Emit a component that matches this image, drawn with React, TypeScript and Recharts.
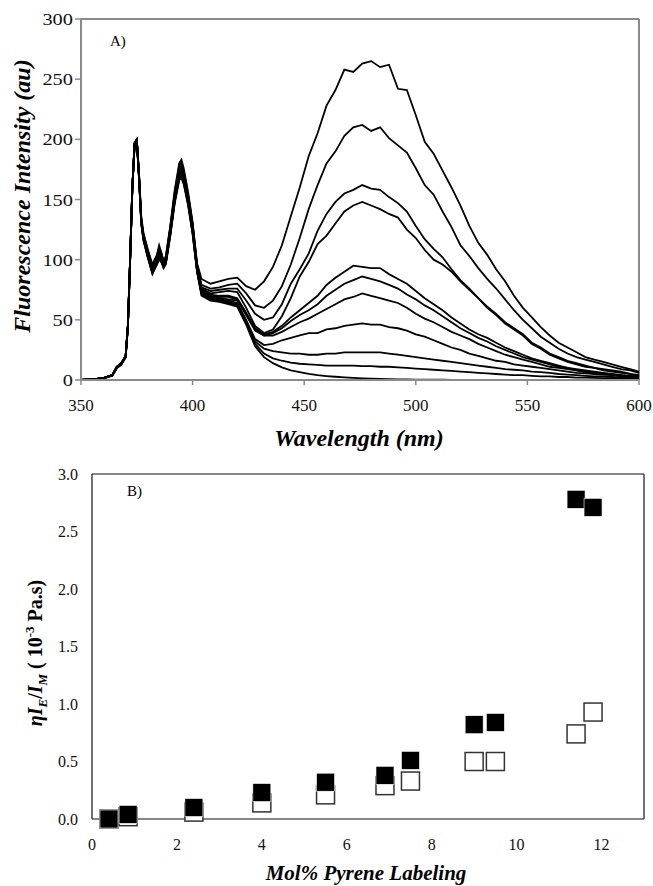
import React from 'react';
import {
  LineChart, Line,
  ScatterChart, Scatter,
  XAxis, YAxis, ReferenceLine,
} from 'recharts';

// ---- panel A: emission spectra (nm vs intensity) ----
const wavelengths = [
  350, 355, 360, 364, 366, 368, 370, 371, 372, 373, 374, 375, 376, 377, 378, 380, 382, 384, 385, 386, 387, 388, 390, 392, 394, 395, 396, 398, 400, 402,
  404, 408, 412, 416, 420, 424, 428, 432, 436, 440, 444, 448, 452, 456, 460, 464, 468, 472, 476, 480, 484, 488, 492, 496, 500,
  504, 508, 512, 516, 520, 524, 528, 532, 536, 540, 544, 548, 552, 556, 560, 564, 568, 572, 576, 580, 584, 588, 592, 596, 600,
];

const s1 = [
  0, 0.5, 1.5, 4, 10, 13, 20, 45, 100, 160, 196, 200, 172, 136, 122, 108, 96, 104, 112, 106, 99, 103, 128, 158, 180, 183, 176, 156, 131, 97,
  84, 80, 82, 84, 85, 78, 75, 82, 94, 112, 136, 160, 186, 205, 228, 241, 258, 256, 263, 265, 260, 262, 242, 241, 220,
  198, 188, 174, 160, 145, 128, 114, 104, 92, 82, 70, 60, 52, 44, 37, 31, 27, 23, 19, 17, 15, 13, 11, 9, 7,
];
const s2 = [
  0, 0.5, 1.5, 4, 10, 13, 19, 44, 98, 158, 195, 199, 171, 134, 121, 107, 95, 103, 110, 105, 98, 102, 127, 156, 178, 181, 174, 154, 130, 96,
  79, 76, 77, 79, 80, 72, 62, 60, 66, 78, 96, 118, 142, 162, 180, 190, 203, 210, 212, 207, 210, 201, 195, 189, 176,
  162, 154, 140, 127, 112, 103, 93, 84, 76, 67, 58, 50, 43, 36, 31, 26, 22, 19, 17, 15, 13, 11, 9, 8, 6,
];
const s3 = [
  0, 0.4, 1.4, 4, 11, 14, 20, 46, 101, 161, 197, 200, 170, 133, 120, 106, 94, 102, 108, 104, 98, 101, 126, 155, 176, 178, 172, 153, 129, 95,
  77, 74, 75, 76, 76, 66, 55, 50, 52, 63, 80, 92, 105, 124, 138, 148, 155, 158, 162, 159, 158, 152, 147, 140, 128,
  117, 109, 102, 92, 83, 76, 68, 61, 55, 48, 43, 38, 31, 27, 22, 19, 16, 14, 12, 10, 9, 8, 7, 5, 4,
];
const s4 = [
  0, 0.5, 1.5, 3.5, 10, 13, 19, 44, 99, 159, 196, 199, 169, 132, 119, 105, 93, 101, 107, 103, 97, 100, 125, 153, 174, 176, 170, 152, 128, 94,
  76, 72, 73, 74, 73, 60, 45, 39, 42, 53, 68, 86, 98, 113, 120, 130, 140, 145, 148, 145, 142, 138, 135, 125, 118,
  108, 100, 96, 90, 82, 75, 68, 60, 54, 47, 42, 37, 30, 26, 21, 18, 15, 13, 11, 10, 8, 7, 6, 5, 3,
];
const s5 = [
  0, 0.5, 1.6, 4, 11, 14, 20, 45, 100, 160, 197, 200, 170, 133, 119, 104, 92, 100, 106, 102, 96, 99, 124, 152, 172, 174, 169, 151, 127, 93,
  75, 71, 70, 70, 68, 56, 43, 38, 40, 45, 52, 58, 64, 70, 79, 85, 90, 95, 94, 93, 93, 88, 84, 80, 74,
  68, 63, 58, 52, 47, 42, 38, 35, 31, 27, 24, 21, 18, 16, 14, 12, 10, 9, 8, 7, 6, 5, 4, 3.5, 3,
];
const s6 = [
  0, 0.4, 1.5, 4, 10, 13, 19, 44, 99, 159, 196, 199, 169, 132, 118, 104, 91, 99, 105, 101, 96, 99, 123, 151, 171, 173, 168, 150, 126, 92,
  74, 70, 69, 69, 67, 55, 42, 37, 39, 43, 49, 54, 58, 63, 70, 75, 80, 83, 86, 84, 82, 79, 76, 71, 67,
  62, 58, 53, 48, 43, 39, 35, 32, 28, 25, 22, 19, 17, 15, 13, 11, 10, 8, 7, 6, 5, 4.5, 4, 3, 2.5,
];
const s7 = [
  0, 0.5, 1.5, 4, 10, 14, 20, 45, 100, 160, 197, 200, 169, 132, 118, 103, 90, 98, 104, 100, 95, 98, 122, 150, 170, 172, 167, 149, 125, 92,
  73, 69, 68, 67, 66, 54, 41, 37, 37, 40, 44, 48, 51, 55, 59, 63, 67, 69, 72, 70, 68, 66, 64, 60, 55,
  51, 48, 44, 40, 37, 34, 30, 27, 24, 21, 19, 17, 15, 13, 11, 10, 9, 8, 6.5, 5.5, 5, 4, 3.5, 3, 2.5,
];
const s8 = [
  0, 0.5, 1.4, 3.5, 10, 13, 19, 44, 99, 159, 196, 199, 168, 131, 117, 103, 90, 98, 103, 100, 95, 98, 122, 150, 169, 171, 166, 148, 124, 91,
  72, 68, 67, 66, 64, 50, 34, 29, 30, 33, 35, 37, 39, 39, 42, 43, 45, 46, 47, 46, 46, 44, 43, 41, 38,
  36, 33, 30, 27, 25, 22, 20, 18, 16, 15, 13, 12, 11, 10, 9, 8, 7, 6, 5.5, 5, 4.5, 4, 3, 2.5, 2,
];
const s9 = [
  0, 0.5, 1.5, 4, 11, 13, 20, 45, 100, 160, 196, 199, 168, 131, 117, 102, 89, 97, 102, 99, 94, 97, 121, 149, 168, 170, 165, 147, 123, 91,
  72, 68, 67, 65, 63, 48, 32, 26, 24, 23, 22, 22, 21, 21, 22, 22, 23, 23, 23, 23, 23, 22, 21, 20, 19,
  18, 17, 16, 15, 14, 13, 12, 11, 10, 9, 8.5, 8, 7, 6.5, 6, 5, 4.5, 4, 3.5, 3, 3, 2.5, 2, 2, 1.5,
];
const s10 = [
  0, 0.4, 1.5, 4, 10, 14, 19, 44, 99, 159, 195, 198, 167, 130, 116, 102, 89, 96, 101, 98, 94, 97, 120, 148, 167, 169, 164, 146, 122, 90,
  71, 67, 66, 64, 62, 47, 30, 22, 18, 16, 14.5, 13.5, 13, 12.5, 12, 12, 12, 12, 11.5, 11.5, 11, 11, 10.5, 10, 9.5,
  9, 8.5, 8, 7.5, 7, 6.5, 6, 5.5, 5, 4.5, 4, 4, 3.5, 3, 3, 2.5, 2.5, 2, 2, 1.8, 1.5, 1.5, 1.2, 1, 1,
];
const s11 = [
  0, 0.5, 1.5, 4, 10, 13, 20, 45, 100, 160, 196, 199, 167, 130, 116, 101, 88, 96, 100, 98, 93, 96, 120, 147, 166, 168, 163, 145, 121, 90,
  70, 66, 65, 63, 61, 46, 28, 19, 14, 10.5, 8, 6.5, 5, 4, 3.3, 2.7, 2.2, 1.8, 1.4, 1.1, 0.9, 0.7, 0.5, 0.4, 0.3,
  0.2, 0.2, 0.2, 0.1, 0.1, 0.1, 0.1, 0.1, 0.1, 0, 0, 0, 0, 0, 0, 0, 0, 0, 0, 0, 0, 0, 0, 0, 0,
];

const spectra = [s1, s2, s3, s4, s5, s6, s7, s8, s9, s10, s11];
const nmTicks = [350, 400, 450, 500, 550, 600];
const intensityTicks = [0, 50, 100, 150, 200, 250, 300];

// ---- panel B: ratio vs labeling ----
const molPct = [0.4, 0.85, 2.4, 4.0, 5.5, 6.9, 7.5, 9.0, 9.5, 11.4, 11.8];
const filledVals = [0.0, 0.04, 0.1, 0.23, 0.32, 0.38, 0.51, 0.82, 0.84, 2.78, 2.71];
const openVals = [0.0, 0.02, 0.06, 0.14, 0.21, 0.29, 0.33, 0.5, 0.5, 0.74, 0.93];
const molTicks = [0, 2, 4, 6, 8, 10, 12];
const ratioTicks = [0, 0.5, 1, 1.5, 2, 2.5, 3];

const specRows = wavelengths.map((nm, i) => {
  const row: Record<string, number> = { nm };
  spectra.forEach((s, k) => { row[`s${k + 1}`] = s[i]; });
  return row;
});
const filledPts = molPct.map((x, i) => ({ x, y: filledVals[i] }));
const openPts = molPct.map((x, i) => ({ x, y: openVals[i] }));

const SERIF = '"Liberation Serif", "Times New Roman", serif';
const GRAY = '#8a8a8a';

const YTickA = ({ x, y, payload }: any) => (
  <g transform={`translate(${x},${y})`}>
    <text textAnchor="end" dy="0.36em" fontSize={17} fontFamily={SERIF} fill="#111" transform="scale(1.2,1)">
      {payload.value}
    </text>
  </g>
);
const XTickA = ({ x, y, payload }: any) => (
  <g transform={`translate(${x},${y})`}>
    <text textAnchor="middle" dy="0.75em" fontSize={17} fontFamily={SERIF} fill="#111">
      {payload.value}
    </text>
  </g>
);

const FilledSquare = (p: any) => (
  <rect x={p.cx - 9} y={p.cy - 9} width={18} height={18} fill="#000" stroke="#fff" strokeWidth={0.6} />
);
const OpenSquare = (p: any) => (
  <rect x={p.cx - 9} y={p.cy - 9} width={18} height={18} fill="#fff" stroke="#333" strokeWidth={1.5} />
);

const label = (extra: React.CSSProperties): React.CSSProperties => ({
  position: 'absolute',
  fontFamily: SERIF,
  whiteSpace: 'nowrap',
  color: '#000',
  lineHeight: 1,
  ...extra,
});

export default function App() {
  return (
    <div style={{ position: 'absolute', left: 0, top: 0, width: 653, height: 886, background: '#fff' }}>
      <div style={{ position: 'absolute', left: 0, top: 0 }}>
        <LineChart width={653} height={430} data={specRows} margin={{ top: 19, right: 14, left: 0, bottom: 10 }}>
          <XAxis
            dataKey="nm"
            type="number"
            domain={[350, 600]}
            ticks={nmTicks}
            height={40}
            tickSize={5}
            tickMargin={13}
            tick={<XTickA />}
            axisLine={{ stroke: GRAY, strokeWidth: 2 }}
            tickLine={{ stroke: GRAY, strokeWidth: 1.5 }}
          />
          <YAxis
            type="number"
            domain={[0, 300]}
            ticks={intensityTicks}
            width={81}
            tickSize={6}
            tick={<YTickA />}
            axisLine={{ stroke: GRAY, strokeWidth: 2 }}
            tickLine={{ stroke: GRAY, strokeWidth: 1.5 }}
          />
          <ReferenceLine y={300} stroke={GRAY} strokeWidth={2} />
          <ReferenceLine x={600} stroke={GRAY} strokeWidth={2} />
          {spectra.map((_, k) => (
            <Line
              key={k}
              type="linear"
              dataKey={`s${k + 1}`}
              stroke="#000"
              strokeWidth={1.8}
              dot={false}
              isAnimationActive={false}
            />
          ))}
        </LineChart>
      </div>

      <div style={label({ left: 110, top: 34, fontSize: 15 })}>A)</div>
      <div style={label({ left: 22, top: 196, fontSize: 24, fontWeight: 'bold', fontStyle: 'italic', transform: 'translate(-50%,-50%) rotate(-90deg)' })}>
        Fluorescence Intensity (au)
      </div>
      <div style={label({ left: 359, top: 438, fontSize: 24, fontWeight: 'bold', fontStyle: 'italic', transform: 'translate(-50%,-50%)' })}>
        Wavelength (nm)
      </div>

      <div style={{ position: 'absolute', left: 0, top: 440 }}>
        <ScatterChart width={653} height={446} margin={{ top: 34, right: 9, left: 0, bottom: 27 }}>
          <XAxis
            dataKey="x"
            type="number"
            domain={[0, 13]}
            ticks={molTicks}
            height={40}
            tickSize={0}
            tickMargin={20}
            tickLine={false}
            tick={{ fontSize: 16, fontFamily: SERIF, fill: '#111' }}
            axisLine={{ stroke: '#111', strokeWidth: 1.2 }}
          />
          <YAxis
            dataKey="y"
            type="number"
            domain={[0, 3]}
            ticks={ratioTicks}
            width={92}
            tickSize={0}
            tickMargin={14}
            tickLine={false}
            tickFormatter={(v: number) => v.toFixed(1)}
            tick={{ fontSize: 16, fontFamily: SERIF, fill: '#111' }}
            axisLine={{ stroke: '#111', strokeWidth: 1.2 }}
          />
          <ReferenceLine y={3} stroke="#111" strokeWidth={1.2} />
          <ReferenceLine x={13} stroke="#444" strokeWidth={1.5} />
          <Scatter data={openPts} shape={<OpenSquare />} isAnimationActive={false} />
          <Scatter data={filledPts} shape={<FilledSquare />} isAnimationActive={false} />
        </ScatterChart>
      </div>

      <div style={label({ left: 127, top: 484, fontSize: 15 })}>B)</div>
      <div style={label({ left: 36, top: 653, fontSize: 20, fontWeight: 'bold', transform: 'translate(-50%,-50%) rotate(-90deg)' })}>
        <i>η</i><i>I</i><sub style={{ fontSize: 13, fontStyle: 'italic' }}>E</sub>/<i>I</i><sub style={{ fontSize: 13, fontStyle: 'italic' }}>M</sub>
        {' ( 10'}<sup style={{ fontSize: 13 }}>-3</sup>{' Pa.s)'}
      </div>
      <div style={label({ left: 366, top: 873, fontSize: 21, fontWeight: 'bold', fontStyle: 'italic', transform: 'translate(-50%,-50%)' })}>
        Mol% Pyrene Labeling
      </div>
    </div>
  );
}
